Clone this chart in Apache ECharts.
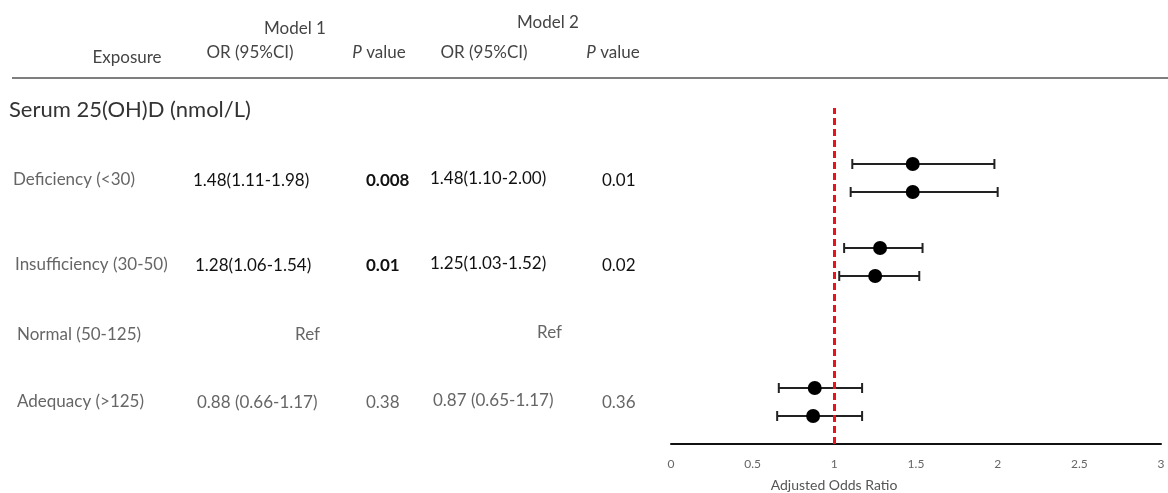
<!DOCTYPE html>
<html>
<head>
<meta charset="utf-8">
<script src="https://cdn.jsdelivr.net/npm/echarts@6/dist/echarts.min.js"></script>
<style>html,body{margin:0;padding:0;background:#fff}#c{width:1168px;height:493px}</style>
</head>
<body>
<div id="c"></div>
<script>
// ---- data ----
const exposures = ['Deficiency (<30)', 'Insufficiency (30-50)', 'Normal (50-125)', 'Adequacy (>125)'];
const m1Text = ['1.48(1.11-1.98)', '1.28(1.06-1.54)', 'Ref', '0.88 (0.66-1.17)'];
const m1P = ['0.008', '0.01', '', '0.38'];
const m2Text = ['1.48(1.10-2.00)', '1.25(1.03-1.52)', 'Ref', '0.87 (0.65-1.17)'];
const m2P = ['0.01', '0.02', '', '0.36'];
const significant = [true, true, false, false];
// forest plot estimates (model 1 and model 2 for each non-reference row)
const rowSlot = [10, 9, 7, 6, 2, 1];
const orEst = [1.48, 1.48, 1.28, 1.25, 0.88, 0.87];
const ciLow = [1.11, 1.10, 1.06, 1.03, 0.66, 0.65];
const ciHigh = [1.98, 2.00, 1.54, 1.52, 1.17, 1.17];
const xTicks = ['0', '0.5', '1', '1.5', '2', '2.5', '3'];

const chart = echarts.init(document.getElementById('c'));
const FONT = 'Lato';

const rowY = [180, 265, 335, 402];
const g = [];
function txt(x, y, s, font, fill, align) {
  g.push({type: 'text', x: x, y: y, style: {text: s, font: font, fill: fill || '#333', align: align || 'left', verticalAlign: 'middle'}});
}
// headers
const H = '17px ' + FONT;
txt(295, 29, 'Model 1', H, '#444', 'center');
txt(548, 23, 'Model 2', H, '#444', 'center');
txt(127, 58, 'Exposure', H, '#444', 'center');
txt(250, 53, 'OR (95%CI)', H, '#444', 'center');
txt(484, 53, 'OR (95%CI)', H, '#444', 'center');
[379, 613].forEach(function (cx) {
  g.push({type: 'text', x: cx, y: 53, style: {text: '{i|P} value', align: 'center', verticalAlign: 'middle', font: H, fill: '#444', rich: {i: {fontStyle: 'italic', fontFamily: FONT, fontSize: 17, fill: '#444'}}}});
});
g.push({type: 'line', shape: {x1: 12, y1: 78, x2: 1168, y2: 78}, style: {stroke: '#555', lineWidth: 1.5}});
txt(9, 110, 'Serum 25(OH)D (nmol/L)', '22px ' + FONT, '#333');

const labelX = [13, 15, 17, 17];
const m1X = [193, 195, 320, 197];
const m2X = [430, 430, 562, 433];
const p1X = 366;
const p2X = 602;
exposures.forEach(function (e, i) {
  txt(labelX[i], rowY[i], e, '17px ' + FONT, '#666');
  const sig = significant[i];
  const vc = sig ? '#111' : '#666';
  const isRef = m1Text[i] === 'Ref';
  const vf = '17px ' + FONT;
  txt(m1X[i], rowY[i] + (isRef ? 0 : 1), m1Text[i], vf, vc, isRef ? 'right' : 'left');
  txt(m2X[i], rowY[i] - (isRef ? 2 : 1), m2Text[i], vf, vc, isRef ? 'right' : 'left');
  if (m1P[i]) txt(p1X, rowY[i] + 1, m1P[i], (sig ? 'bold ' : '') + '17px ' + FONT, vc);
  if (m2P[i]) txt(p2X, rowY[i] + 1, m2P[i], vf, vc);
});
txt(834, 485, 'Adjusted Odds Ratio', '14px ' + FONT, '#555', 'center');

const ciData = rowSlot.map(function (y, i) { return [ciLow[i], ciHigh[i], y]; });
const ptData = rowSlot.map(function (y, i) { return [orEst[i], y]; });

chart.setOption({
  animation: false,
  grid: {left: 671, right: 7, top: 108, bottom: 49},
  xAxis: {
    type: 'value', min: 0, max: 3, interval: 0.5,
    axisLine: {show: true, lineStyle: {color: '#111', width: 2}},
    axisTick: {show: false}, splitLine: {show: false},
    axisLabel: {color: '#666', fontSize: 12, fontFamily: FONT, margin: 14,
      formatter: function (v) { return xTicks[Math.round(v * 2)]; }}
  },
  yAxis: {type: 'value', min: 0, max: 12, show: false, splitLine: {show: false}},
  series: [
    {
      type: 'custom', data: ciData, z: 2,
      renderItem: function (params, api) {
        const a = api.coord([api.value(0), api.value(2)]);
        const b = api.coord([api.value(1), api.value(2)]);
        const st = {stroke: '#222', lineWidth: 2};
        return {type: 'group', children: [
          {type: 'line', shape: {x1: a[0], y1: a[1], x2: b[0], y2: b[1]}, style: st},
          {type: 'line', shape: {x1: a[0], y1: a[1] - 5, x2: a[0], y2: a[1] + 5}, style: st},
          {type: 'line', shape: {x1: b[0], y1: b[1] - 5, x2: b[0], y2: b[1] + 5}, style: st}
        ]};
      }
    },
    {
      type: 'scatter', data: ptData, symbol: 'circle', symbolSize: 14, z: 3,
      itemStyle: {color: '#000', opacity: 1},
      markLine: {
        silent: true, symbol: 'none', label: {show: false},
        lineStyle: {color: '#e8141c', width: 3, type: [7, 4]},
        data: [{xAxis: 1}]
      }
    }
  ],
  graphic: g
});
</script>
</body>
</html>
